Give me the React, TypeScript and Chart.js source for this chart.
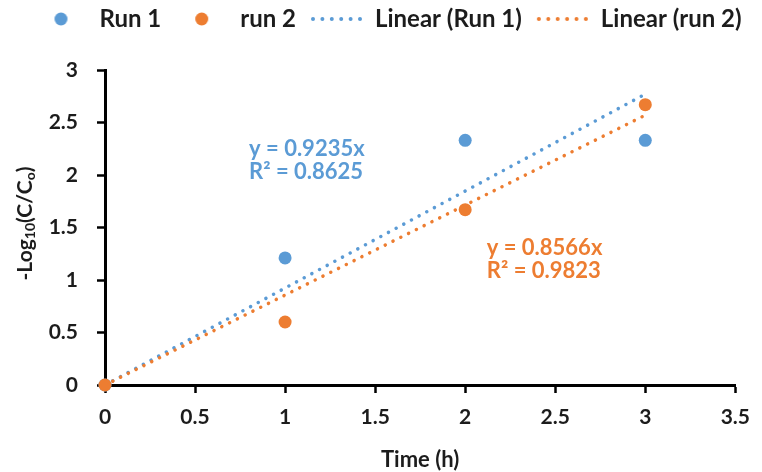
import React, { useEffect, useRef } from "react";
import { Chart, registerables } from "chart.js";

Chart.register(...registerables);

const timeValues = [0, 1, 2, 3];
const run1Values = [0, 1.21, 2.33, 2.33];
const run2Values = [0, 0.6, 1.67, 2.67];
const trendSlopes = [0.9235, 0.8566];
const trendR2 = [0.8625, 0.9823];
const xTicks = [0, 0.5, 1, 1.5, 2, 2.5, 3, 3.5];
const yTicks = [0, 0.5, 1, 1.5, 2, 2.5, 3];
const legendLabels = ["Run 1", "run 2", "Linear (Run 1)", "Linear (run 2)"];

const BLUE = "#5B9BD5";
const ORANGE = "#ED7D31";
const FONT = "Lato";
const TEXT = "#1c1c1c";

function makeDot(color: string) {
  const c = document.createElement("canvas");
  c.width = 53;
  c.height = 14;
  const ctx = c.getContext("2d")!;
  ctx.fillStyle = color;
  ctx.beginPath();
  ctx.arc(26.5, 7, 6.5, 0, Math.PI * 2);
  ctx.fill();
  return c;
}

function makeDotted(color: string) {
  const c = document.createElement("canvas");
  c.width = 53;
  c.height = 8;
  const ctx = c.getContext("2d")!;
  ctx.fillStyle = color;
  for (let i = 0; i < 6; i++) {
    ctx.beginPath();
    ctx.arc(3 + i * 9.4, 4, 2, 0, Math.PI * 2);
    ctx.fill();
  }
  return c;
}

export default function App() {
  const ref = useRef<HTMLCanvasElement | null>(null);

  useEffect(() => {
    if (!ref.current) return;
    const toPts = (ys: number[]) => timeValues.map((x, i) => ({ x, y: ys[i] }));
    const trend = (m: number) => [
      { x: timeValues[0], y: m * timeValues[0] },
      { x: timeValues[timeValues.length - 1], y: m * timeValues[timeValues.length - 1] },
    ];
    const legendImgs = [makeDot(BLUE), makeDot(ORANGE), makeDotted(BLUE), makeDotted(ORANGE)];

    const legendMargin = {
      id: "legendMargin",
      beforeInit(chart: any) {
        const orig = chart.legend.fit;
        chart.legend.fit = function () {
          orig.bind(chart.legend)();
          this.height = 70;
        };
      },
      afterLayout(chart: any) {
        chart.legend.top -= 7;
        chart.legend.bottom -= 7;
        chart.legend.left += 16;
        chart.legend.right += 16;
      },
    };

    const annotations = {
      id: "annotations",
      afterDatasetsDraw(chart: any) {
        const { ctx, scales } = chart;
        const xs = scales.x;
        const ys = scales.y;
        ctx.save();
        ctx.font = `bold 22px ${FONT}`;
        ctx.textBaseline = "middle";
        ctx.textAlign = "left";
        const items = [
          { color: BLUE, x: 0.8, y1: 2.25, y2: 2.03, i: 0 },
          { color: ORANGE, x: 2.12, y1: 1.31, y2: 1.085, i: 1 },
        ];
        items.forEach((it) => {
          ctx.fillStyle = it.color;
          const px = xs.getPixelForValue(it.x);
          ctx.fillText(`y = ${trendSlopes[it.i]}x`, px, ys.getPixelForValue(it.y1));
          ctx.fillText(`R² = ${trendR2[it.i]}`, px, ys.getPixelForValue(it.y2));
        });
        // y axis title with subscripts
        const parts: [string, boolean][] = [
          ["-Log", false],
          ["10", true],
          ["(C/C", false],
          ["o", true],
          [")", false],
        ];
        const big = `bold 21px ${FONT}`;
        const small = `bold 14px ${FONT}`;
        let total = 0;
        parts.forEach(([t, s]) => {
          ctx.font = s ? small : big;
          total += ctx.measureText(t).width;
        });
        const cy = (chart.chartArea.top + chart.chartArea.bottom) / 2 - 4;
        ctx.translate(25, cy);
        ctx.rotate(-Math.PI / 2);
        ctx.fillStyle = TEXT;
        let cx = -total / 2;
        parts.forEach(([t, s]) => {
          ctx.font = s ? small : big;
          ctx.fillText(t, cx, s ? 5 : 0);
          cx += ctx.measureText(t).width;
        });
        ctx.restore();
      },
    };

    const chart = new Chart(ref.current, {
      type: "scatter",
      data: {
        datasets: [
          {
            label: legendLabels[1],
            data: toPts(run2Values),
            backgroundColor: ORANGE,
            pointRadius: 6.5,
            pointBorderWidth: 0,
            showLine: false,
            clip: false,
          },
          {
            label: legendLabels[0],
            data: toPts(run1Values),
            backgroundColor: BLUE,
            pointRadius: 6.5,
            pointBorderWidth: 0,
            showLine: false,
            clip: false,
          },
          {
            label: legendLabels[3],
            type: "line",
            data: trend(trendSlopes[1]),
            borderColor: ORANGE,
            borderWidth: 3.5,
            borderDash: [0.1, 8.6],
            borderCapStyle: "round",
            pointRadius: 0,
            fill: false,
            clip: false,
          },
          {
            label: legendLabels[2],
            type: "line",
            data: trend(trendSlopes[0]),
            borderColor: BLUE,
            borderWidth: 3.5,
            borderDash: [0.1, 8.6],
            borderCapStyle: "round",
            pointRadius: 0,
            fill: false,
            clip: false,
          },
        ] as any,
      },
      options: {
        animation: false,
        responsive: true,
        maintainAspectRatio: false,
        layout: { padding: { top: 0, right: 18, bottom: 0, left: 0 } },
        plugins: {
          tooltip: { enabled: false },
          legend: {
            display: true,
            position: "top",
            labels: {
              usePointStyle: true,
              pointStyleWidth: 53,
              padding: 14,
              color: TEXT,
              font: { family: FONT, size: 24, weight: "bold" },
              generateLabels: () =>
                legendLabels.map((text, i) => ({
                  text,
                  pointStyle: legendImgs[i],
                  fillStyle: "transparent",
                  strokeStyle: "transparent",
                  lineWidth: 0,
                  hidden: false,
                  datasetIndex: i,
                  fontColor: TEXT,
                })) as any,
            },
          },
        },
        scales: {
          x: {
            type: "linear",
            min: 0,
            max: 3.5,
            afterFit: (s: any) => {
              s.height = 87;
            },
            afterBuildTicks: (s: any) => {
              s.ticks = xTicks.map((v) => ({ value: v }));
            },
            ticks: {
              color: TEXT,
              padding: 12,
              font: { family: FONT, size: 21, weight: "bold" },
              callback: (v: any) => String(v),
            },
            grid: {
              drawOnChartArea: false,
              drawTicks: true,
              tickLength: 8,
              tickColor: "#000",
              tickWidth: 2.5,
            },
            border: { color: "#000", width: 3 },
            title: {
              display: true,
              text: "Time (h)",
              color: TEXT,
              font: { family: FONT, size: 22, weight: "bold", lineHeight: 1 },
              padding: { top: 0, bottom: 1 },
            },
          },
          y: {
            type: "linear",
            min: 0,
            max: 3,
            afterFit: (s: any) => {
              s.width = 105;
            },
            afterBuildTicks: (s: any) => {
              s.ticks = yTicks.map((v) => ({ value: v }));
            },
            ticks: {
              color: TEXT,
              padding: 19,
              font: { family: FONT, size: 21, weight: "bold" },
              callback: (v: any) => String(v),
            },
            grid: {
              drawOnChartArea: false,
              drawTicks: true,
              tickLength: 8,
              tickColor: "#000",
              tickWidth: 2.5,
            },
            border: { color: "#000", width: 3 },
          },
        },
      },
      plugins: [legendMargin, annotations],
    } as any);
    return () => chart.destroy();
  }, []);

  return (
    <div style={{ position: "fixed", left: 0, top: 0, width: 762, height: 472, background: "#fff" }}>
      <canvas ref={ref} />
    </div>
  );
}
